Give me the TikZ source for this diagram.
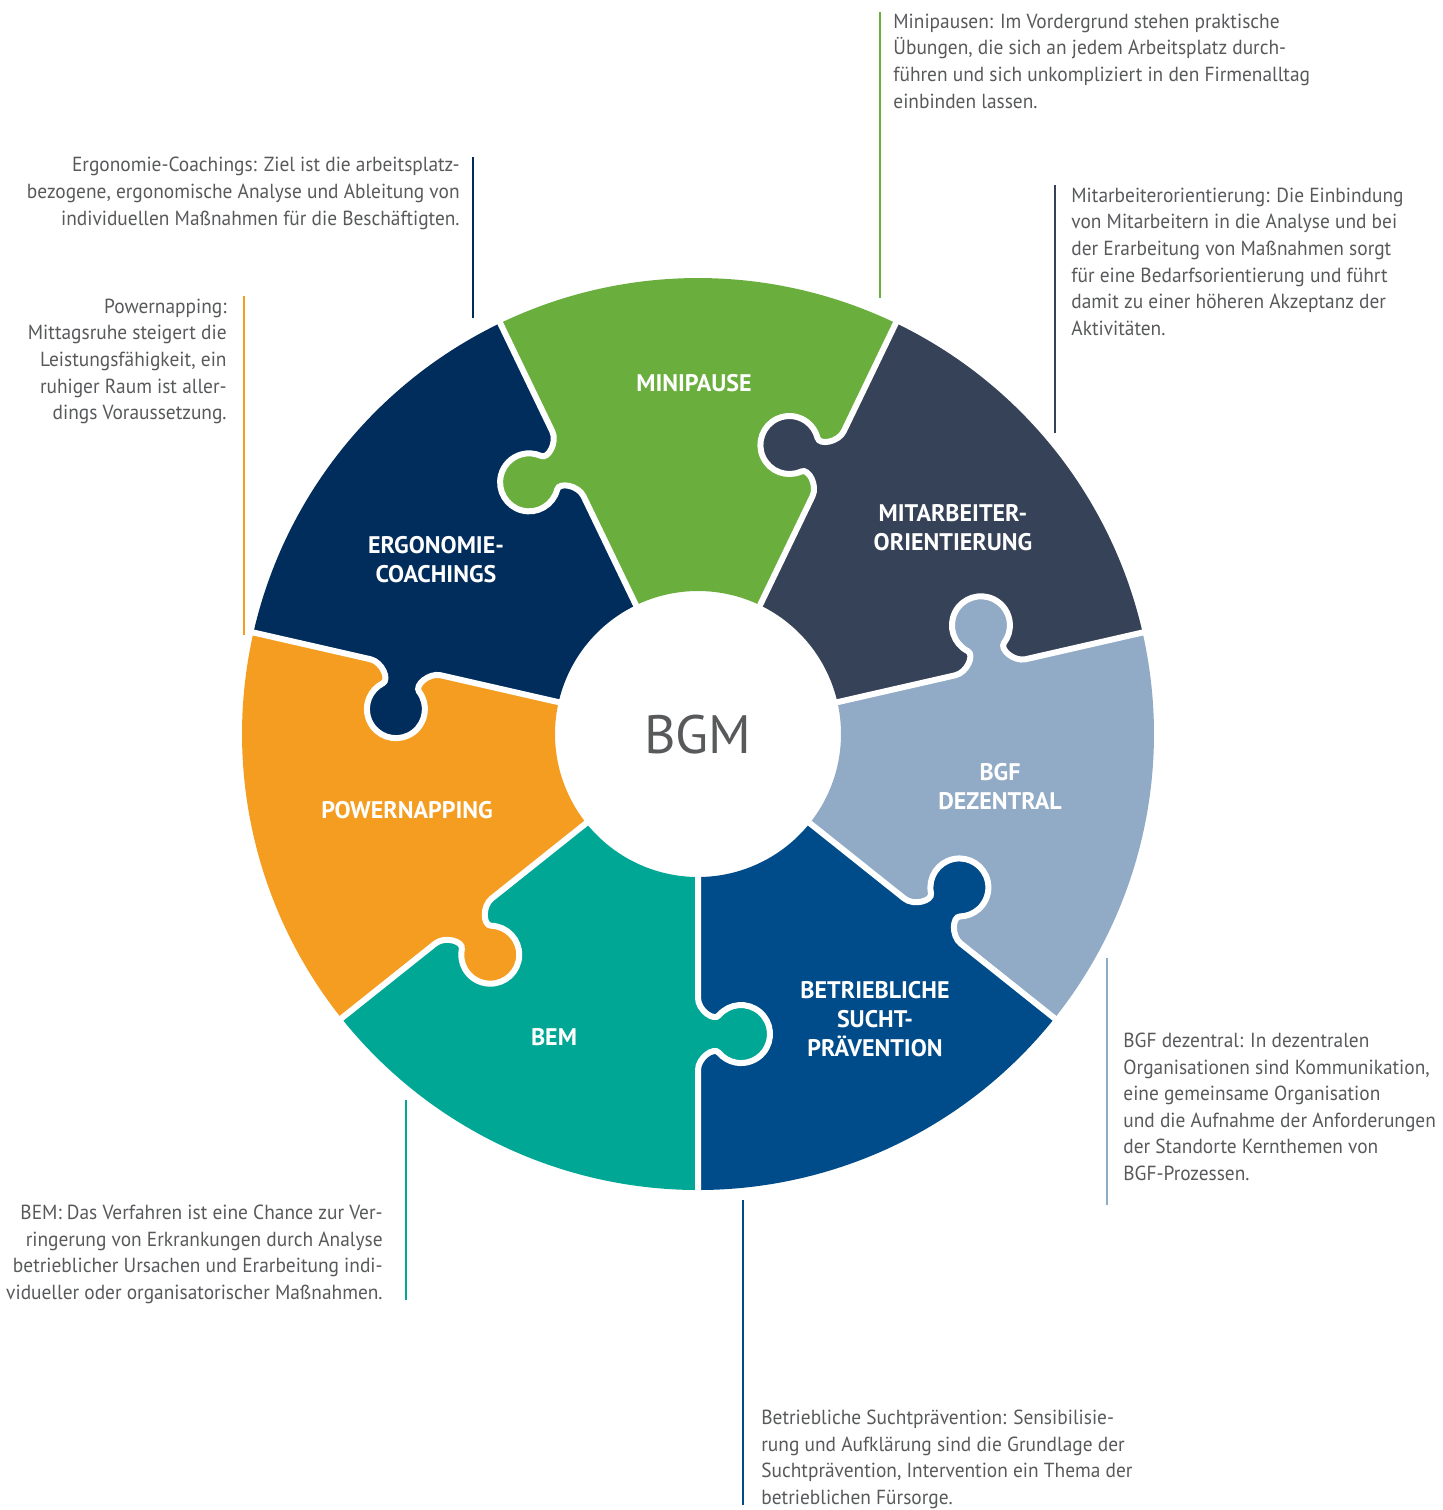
\documentclass[tikz,border=0pt]{standalone}
\usepackage{fontspec}
\setmainfont{PT Sans}
\newfontfamily\notefont{PT Sans}[FakeStretch=0.95]

\definecolor{mpgreen}{HTML}{6AAE3E}
\definecolor{maslate}{HTML}{364257}
\definecolor{bgfblue}{HTML}{91ABC6}
\definecolor{spblue}{HTML}{004C8A}
\definecolor{bemteal}{HTML}{00A794}
\definecolor{pnorange}{HTML}{F59D20}
\definecolor{ergnavy}{HTML}{002D5B}
\definecolor{notegray}{HTML}{58595B}

\begin{document}
\begin{tikzpicture}[x=0.5pt, y=0.5pt,
    note/.style={font=\notefont\fontsize{10.2}{13.3}\selectfont, text=notegray, inner sep=0pt, execute at begin node=\strut},
    notel/.style={note, anchor=north west, align=left},
    noter/.style={note, anchor=north east, align=right},
    piece/.style={font=\fontsize{12}{14.5}\selectfont\bfseries, text=white, align=center},
    rule/.style={line width=0.75pt}]
  \useasboundingbox (0,0) rectangle (1442,-1510);

  % ring of seven pieces, each with its tab on the ccw edge
  \begin{scope}[shift={(698,-734)}]
    \foreach \b/\c in {115.71/mpgreen, 64.29/maslate, 12.86/bgfblue, -38.57/spblue,
                       -90/bemteal, -141.43/pnorange, 167.14/ergnavy} {
      \fill[\c] (\b:143) arc[start angle=\b, end angle=\b-51.43, radius=143]
        -- (\b-51.43:456) arc[start angle=\b-51.43, end angle=\b, radius=456] -- cycle;
    }
    \foreach \b/\c in {115.71/mpgreen, 64.29/maslate, 12.86/bgfblue, -38.57/spblue,
                       -90/bemteal, -141.43/pnorange, 167.14/ergnavy} {
      \begin{scope}[rotate=\b]
        \fill[\c] (264,0) .. controls (276,0) and (287.5,15.7) .. (281.4,20.8)
          arc[start angle=230, end angle=-50, radius=29]
          .. controls (312.5,15.7) and (324,0) .. (336,0)
          -- (336,-5) -- (264,-5) -- cycle;
        \draw[white, line width=3pt] (135,0) -- (264,0)
          .. controls (276,0) and (287.5,15.7) .. (281.4,20.8)
          arc[start angle=230, end angle=-50, radius=29]
          .. controls (312.5,15.7) and (324,0) .. (336,0) -- (462,0);
      \end{scope}
    }
  \end{scope}

  \node[font=\fontsize{27}{30}\selectfont, text=notegray] (bgm) at (698,-735) {BGM};

  \node[piece] (minipause) at (694,-383) {MINIPAUSE};
  \node[piece] (mitarbeiter) at (953,-528) {MITARBEITER-\\ORIENTIERUNG};
  \node[piece] (bgf) at (1000,-787) {BGF\\DEZENTRAL};
  \node[piece] (sucht) at (875,-1019) {BETRIEBLICHE\\SUCHT-\\PRÄVENTION};
  \node[piece] (bem) at (554,-1037) {BEM};
  \node[piece] (power) at (407,-810) {POWERNAPPING};
  \node[piece] (ergo) at (436,-560) {ERGONOMIE-\\COACHINGS};

  % side notes with their rules
  \node[notel] (minitext) at (893,-13.5) {Minipausen: Im Vordergrund stehen praktische\\
    Übungen, die sich an jedem Arbeitsplatz durch-\\
    führen und sich unkompliziert in den Firmenalltag\\
    einbinden lassen.};
  \node[noter] (ergotext) at (460,-157) {Ergonomie-Coachings: Ziel ist die arbeitsplatz-\\
    bezogene, ergonomische Analyse und Ableitung von\\
    individuellen Maßnahmen für die Beschäftigten.};
  \node[notel] (mittext) at (1071,-187.5) {Mitarbeiterorientierung: Die Einbindung\\
    von Mitarbeitern in die Analyse und bei\\
    der Erarbeitung von Maßnahmen sorgt\\
    für eine Bedarfsorientierung und führt\\
    damit zu einer höheren Akzeptanz der\\
    Aktivitäten.};
  \node[noter] (powertext) at (227,-298.5) {Powernapping:\\
    Mittagsruhe steigert die\\
    Leistungsfähigkeit, ein\\
    ruhiger Raum ist aller-\\
    dings Voraussetzung.};
  \node[notel] (bgftext) at (1123,-1032.5) {BGF dezentral: In dezentralen\\
    Organisationen sind Kommunikation,\\
    eine gemeinsame Organisation\\
    und die Aufnahme der Anforderungen\\
    der Standorte Kernthemen von\\
    BGF-Prozessen.};
  \node[noter] (bemtext) at (383,-1204.5) {BEM: Das Verfahren ist eine Chance zur Ver-\\
    ringerung von Erkrankungen durch Analyse\\
    betrieblicher Ursachen und Erarbeitung indi-\\
    vidueller oder organisatorischer Maßnahmen.};
  \node[notel] (suchttext) at (761,-1409.5) {Betriebliche Suchtprävention: Sensibilisie-\\
    rung und Aufklärung sind die Grundlage der\\
    Suchtprävention, Intervention ein Thema der\\
    betrieblichen Fürsorge.};

  \foreach \n/\x/\ya/\yb/\c in {mini/880/12/298/mpgreen, ergo/473/157/318/ergnavy,
      mit/1055/185/433/maslate, power/244/296/635/pnorange, bgf/1107/958/1205/bgfblue,
      bem/406/1100/1300/bemteal, sucht/743/1200/1505/spblue} {
    \coordinate (\n top) at (\x,-\ya);
    \coordinate (\n bot) at (\x,-\yb);
    \draw[rule, \c] (\n top) -- (\n bot);
  }
\end{tikzpicture}
\end{document}
